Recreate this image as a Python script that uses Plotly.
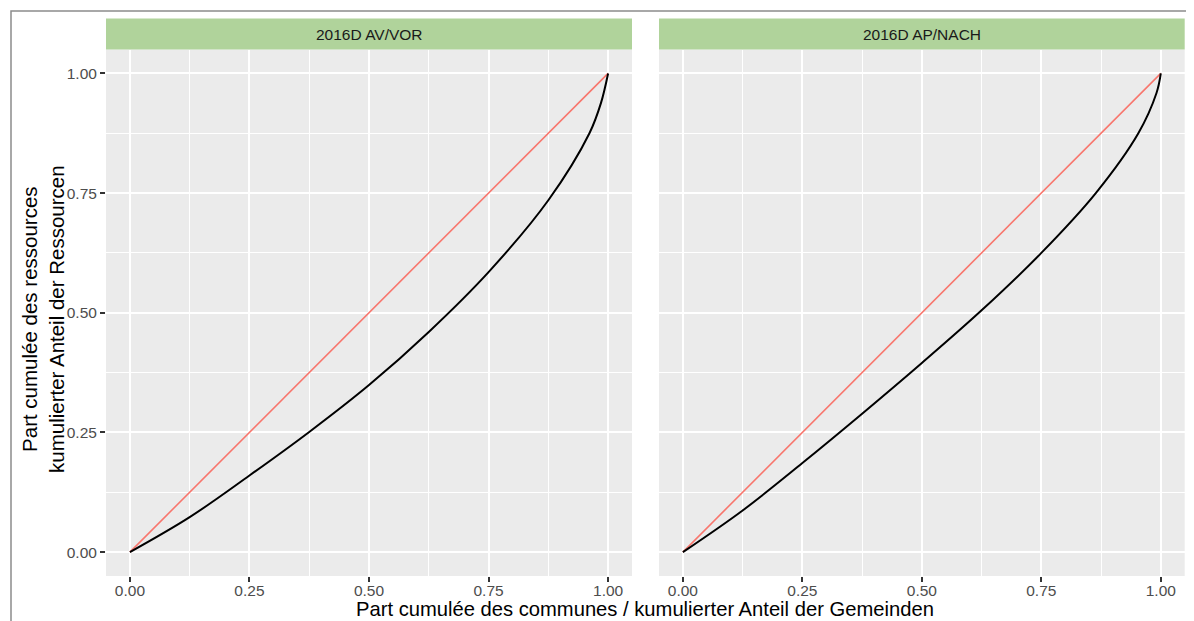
import plotly.graph_objects as go

# page body has an 8px margin, so the figure starts at (8, 8)
OFF = 8
W, H = 1194 - OFF, 621 - OFF

# ---- data ----
panels = ["2016D AV/VOR", "2016D AP/NACH"]
lorenz_left_x = [0, 0.125, 0.25, 0.375, 0.5, 0.625, 0.75, 0.875, 0.961, 0.985, 1.0]
lorenz_left_y = [0, 0.073, 0.160, 0.251, 0.349, 0.460, 0.585, 0.735, 0.875, 0.938, 1.0]
lorenz_right_x = [0, 0.125, 0.25, 0.375, 0.5, 0.625, 0.75, 0.864, 0.953, 0.991, 1.0]
lorenz_right_y = [0, 0.087, 0.186, 0.289, 0.395, 0.505, 0.625, 0.75, 0.875, 0.959, 1.0]
diag_x = [0, 1]
diag_y = [0, 1]
tick_vals = [0, 0.25, 0.5, 0.75, 1.0]
tick_text = ["0.00", "0.25", "0.50", "0.75", "1.00"]
minor_vals = [0.125, 0.375, 0.625, 0.875]
x_title = "Part cumulée des communes / kumulierter Anteil der Gemeinden"
y_title = "Part cumulée des ressources<br>kumulierter Anteil der Ressourcen"

FONT = "Liberation Sans, Arial, sans-serif"
PANEL_BG = "#EBEBEB"
STRIP_BG = "#B0D39B"


def px(x):
    return (x - OFF) / W


def py(y):
    return 1 - (y - OFF) / H


left_dom = [px(106), px(632)]
right_dom = [px(659), px(1184.7)]
y_dom = [py(576), py(49.5)]

fig = go.Figure()
series = [(lorenz_left_x, lorenz_left_y, "x", "y"), (lorenz_right_x, lorenz_right_y, "x2", "y2")]
for lx, ly, xa, ya in series:
    fig.add_trace(go.Scatter(x=diag_x, y=diag_y, mode="lines", xaxis=xa, yaxis=ya,
                             line=dict(color="#F8766D", width=1.6), showlegend=False, hoverinfo="skip"))
    fig.add_trace(go.Scatter(x=lx, y=ly, mode="lines", xaxis=xa, yaxis=ya,
                             line=dict(color="black", width=2, shape="spline", smoothing=1),
                             showlegend=False))

axis_common = dict(
    range=[-0.05, 1.05], showgrid=True, gridcolor="white", gridwidth=2,
    zeroline=False, showline=False, tickvals=tick_vals, ticktext=tick_text,
    ticks="outside", ticklen=5, tickwidth=1.5, tickcolor="#333333",
    tickfont=dict(family=FONT, size=15.5, color="#4D4D4D"),
    minor=dict(showgrid=True, gridcolor="white", gridwidth=1, tickvals=minor_vals),
    fixedrange=True,
)

fig.update_layout(
    width=W, height=H,
    margin=dict(l=0, r=0, t=0, b=0),
    paper_bgcolor="white", plot_bgcolor=PANEL_BG,
    xaxis=dict(domain=left_dom, anchor="y", ticklabelstandoff=-5, **axis_common),
    yaxis=dict(domain=y_dom, anchor="x", ticklabelstandoff=0, **axis_common),
    xaxis2=dict(domain=right_dom, anchor="y2", ticklabelstandoff=-5, **axis_common),
    yaxis2=dict(domain=y_dom, anchor="x2", **{**axis_common, "showticklabels": False, "ticks": ""}),
    font=dict(family=FONT),
)

shapes = []
annotations = []
for dom, label in zip([left_dom, right_dom], panels):
    shapes.append(dict(type="rect", xref="paper", yref="paper", x0=dom[0], x1=dom[1],
                       y0=py(49.5), y1=py(18.5), fillcolor=STRIP_BG, line=dict(width=0), layer="below"))
    annotations.append(dict(xref="paper", yref="paper", x=(dom[0] + dom[1]) / 2, y=py(34),
                            text=label, showarrow=False, xanchor="center", yanchor="middle",
                            font=dict(family=FONT, size=15.5, color="#1A1A1A")))

# outer border
shapes.append(dict(type="rect", xref="paper", yref="paper", x0=px(11), x1=px(1260),
                   y0=py(700), y1=py(11), line=dict(color="#8C8C8C", width=1.5),
                   fillcolor="rgba(0,0,0,0)"))

annotations.append(dict(xref="paper", yref="paper", x=px(645), y=py(609), text=x_title,
                        showarrow=False, xanchor="center", yanchor="middle",
                        font=dict(family=FONT, size=20.2, color="black")))
annotations.append(dict(xref="paper", yref="paper", x=px(43), y=py(319), text=y_title,
                        showarrow=False, xanchor="center", yanchor="middle", textangle=-90,
                        font=dict(family=FONT, size=20.5, color="black")))

fig.update_layout(shapes=shapes, annotations=annotations)
fig.write_html("out.html")
